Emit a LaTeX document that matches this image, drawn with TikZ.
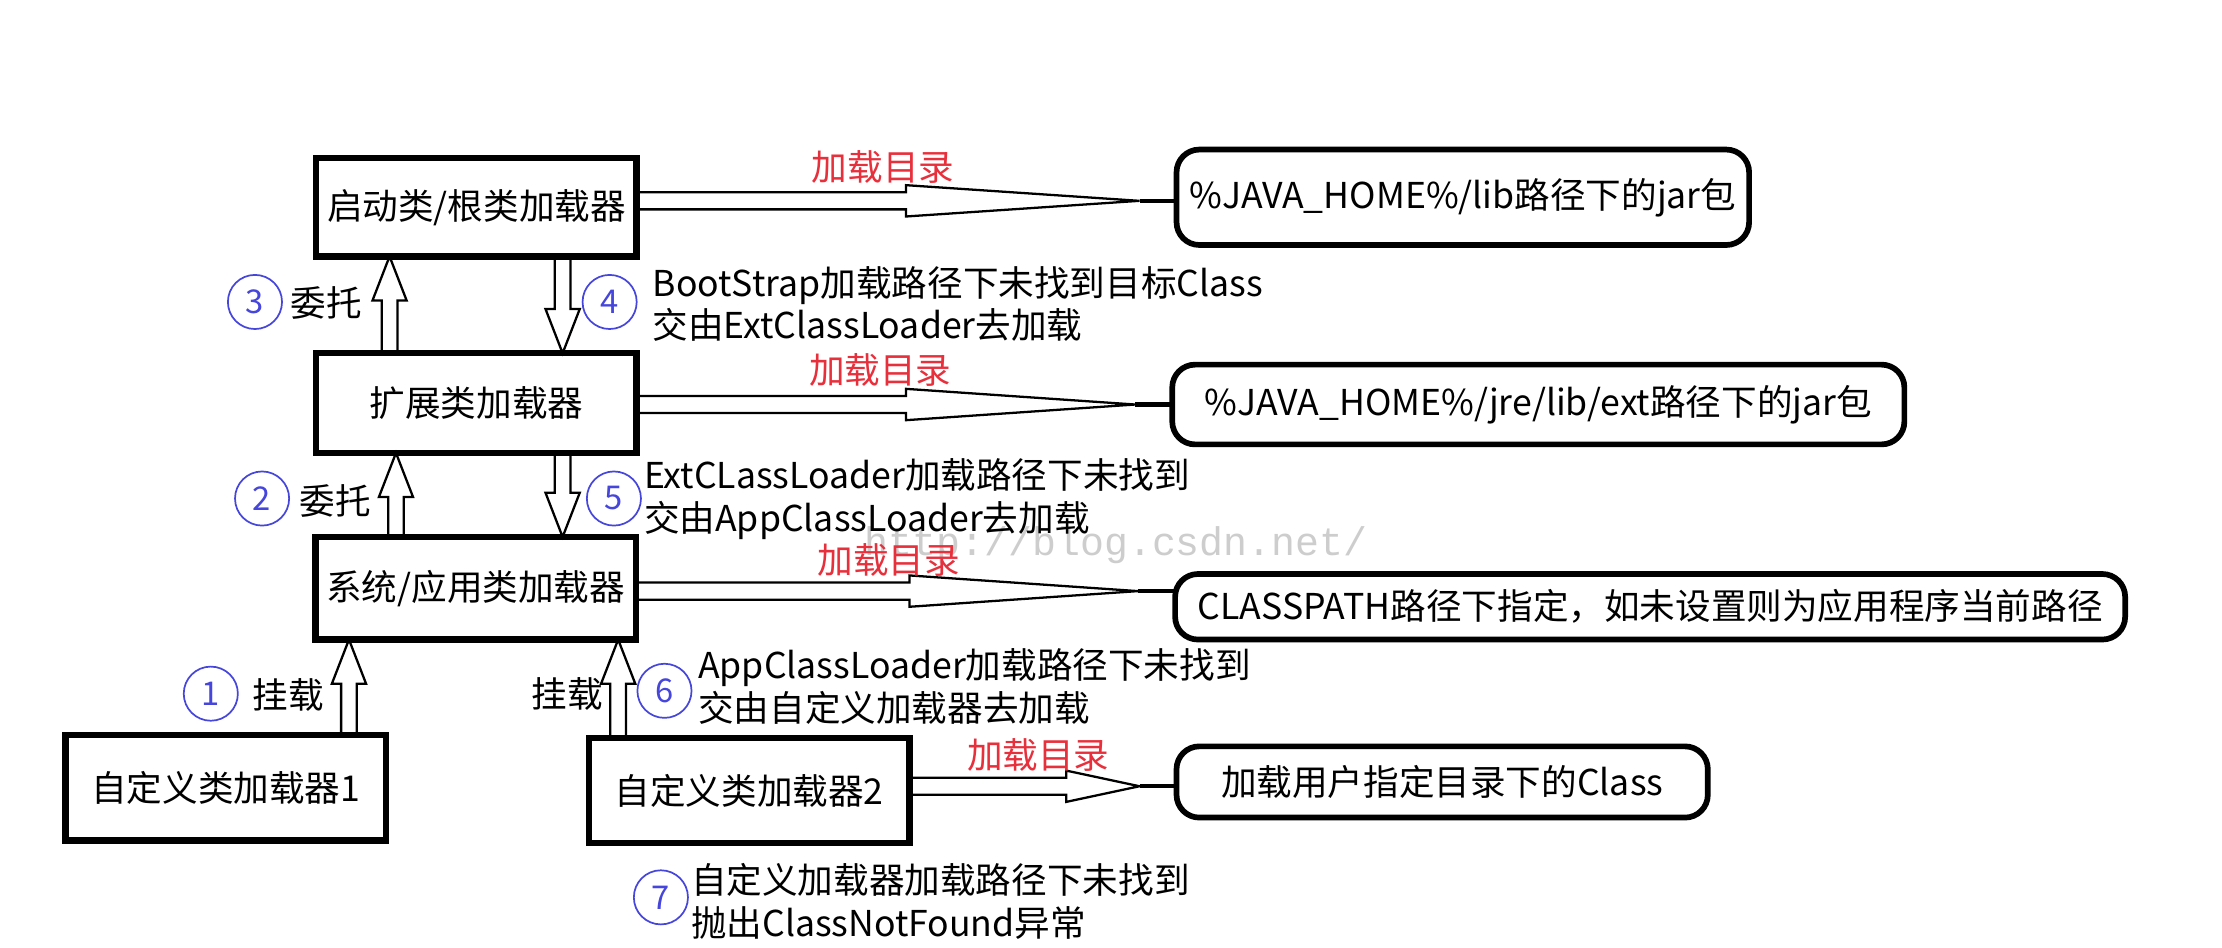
\documentclass[tikz,border=0pt]{standalone}
\usepackage{fontspec}
\setmainfont{Noto Sans CJK SC}
\newfontfamily\wmfont{Liberation Mono}
\usetikzlibrary{calc}
\definecolor{cblue}{RGB}{70,70,220}
\definecolor{cred}{RGB}{232,48,60}
\definecolor{wmgray}{RGB}{205,205,205}
\tikzset{
  box/.style={draw, line width=4.5pt, inner sep=0pt, outer sep=0pt, minimum width=225pt, font=\fontsize{25}{29}\selectfont},
  rbox/.style={draw, line width=4pt, rounded corners=16pt, inner sep=0pt, outer sep=0pt, font=\fontsize{25}{29}\selectfont},
  num/.style={circle, draw=cblue, line width=1.2pt, text=cblue, minimum size=38pt, inner sep=0pt, font=\fontsize{23}{25}\selectfont},
  lbl/.style={inner sep=0pt, font=\fontsize{25}{29}\selectfont},
  steptext/.style={inner sep=0pt, anchor=west, align=left, font=\fontsize{25}{30}\selectfont},
  redlbl/.style={inner sep=0pt, text=cred, font=\fontsize{25}{29}\selectfont},
  wm/.style={inner sep=0pt, anchor=west, text=wmgray, font=\wmfont\fontsize{28}{30}\selectfont},
  hollow/.style={draw, line width=1.6pt, line join=miter}
}
\newcommand\uparr[3]{%
  \draw[hollow] ($(#2.north -| #1)+(-5.5,0)$) -- ($(#3.south -| #1)+(-5.5,31)$) -- ($(#3.south -| #1)+(-12,31)$) -- (#3.south -| #1) -- ($(#3.south -| #1)+(12,31)$) -- ($(#3.south -| #1)+(5.5,31)$) -- ($(#2.north -| #1)+(5.5,0)$);}
\newcommand\downarr[3]{%
  \draw[hollow] ($(#2.south -| #1)+(-5.5,0)$) -- ($(#3.north -| #1)+(-5.5,-31)$) -- ($(#3.north -| #1)+(-12,-31)$) -- (#3.north -| #1) -- ($(#3.north -| #1)+(12,-31)$) -- ($(#3.north -| #1)+(5.5,-31)$) -- ($(#2.south -| #1)+(5.5,0)$);}
\newcommand\harr[4]{%
  \draw[hollow] ($(#1.east |- #3)+(0,-6)$) -- ($(#1.east |- #3)+(#4,-6)$) -- ($(#1.east |- #3)+(#4,-11)$) -- ($(#2.west |- #3)+(-26,0)$) -- ($(#1.east |- #3)+(#4,11)$) -- ($(#1.east |- #3)+(#4,6)$) -- ($(#1.east |- #3)+(0,6)$);
  \draw[line width=3pt] ($(#2.west |- #3)+(-26,0)$) -- (#2.west |- #3);}
\begin{document}
\begin{tikzpicture}[x=1pt,y=-1pt]
\useasboundingbox (0,0) rectangle (1560,665.5);
\fill[white] (0,0) rectangle (1560,665.5);

% watermark
\node[wm] (wmark) at (607,383) {http://blog.csdn.net/};

% loader boxes
\node[box, minimum height=69pt] (A) at (334.5,145.5) {启动类/根类加载器};
\node[box, minimum height=70pt] (B) at (334.5,283) {扩展类加载器};
\node[box, minimum height=72pt] (C) at (334,413) {系统/应用类加载器};
\node[box, minimum height=74pt] (D) at (158.5,553) {自定义类加载器1};
\node[box, minimum height=74pt] (E) at (526,555) {自定义类加载器2};

% directory boxes
\node[rbox, minimum width=402pt, minimum height=67pt] (R1) at (1027,138.5) {\%JAVA\_HOME\%/lib路径下的jar包};
\node[rbox, minimum width=514pt, minimum height=56pt] (R2) at (1080,284) {\%JAVA\_HOME\%/jre/lib/ext路径下的jar包};
\node[rbox, minimum width=667pt, minimum height=46pt] (R3) at (1158.5,426) {CLASSPATH路径下指定，如未设置则为应用程序当前路径};
\node[rbox, minimum width=373pt, minimum height=50pt] (R4) at (1012.5,549) {加载用户指定目录下的Class};

% helper coordinates
\coordinate (xa) at (273.5,0);
\coordinate (xb) at (395,0);
\coordinate (xc) at (278,0);
\coordinate (xe) at (245,0);
\coordinate (xf) at (434,0);
\coordinate (ya) at (0,141);
\coordinate (yb) at (0,284);
\coordinate (yc) at (0,415);
\coordinate (ye) at (0,552);

% vertical arrows
\uparr{xa}{B}{A}
\downarr{xb}{A}{B}
\uparr{xc}{C}{B}
\downarr{xb}{B}{C}
\uparr{xe}{D}{C}
\uparr{xf}{E}{C}

% horizontal arrows
\harr{A}{R1}{ya}{189}
\harr{B}{R2}{yb}{189}
\harr{C}{R3}{yc}{192}
\harr{E}{R4}{ye}{110}

% red labels
\node[redlbl] (l1) at (620,117) {加载目录};
\node[redlbl] (l2) at (618,260) {加载目录};
\node[redlbl] (l3) at (624,393) {加载目录};
\node[redlbl] (l4) at (729,530) {加载目录};

% numbered circles and labels
\node[num] (n3) at (179,212) {3};
\node[lbl, anchor=west] (t3) at (204,213) {委托};
\node[num] (n4) at (428,212) {4};
\node[steptext] (t4) at (458,213.5) {BootStrap加载路径下未找到目标Class\\交由ExtClassLoader去加载};

\node[num] (n2) at (184,350) {2};
\node[lbl, anchor=west] (t2) at (210,352) {委托};
\node[num] (n5) at (431,350) {5};
\node[steptext] (t5) at (452,350.5) {ExtCLassLoader加载路径下未找到\\交由AppClassLoader去加载};

\node[num] (n1) at (148,487) {1};
\node[lbl, anchor=west] (t1) at (177,488) {挂载};
\node[lbl, anchor=west] (t1b) at (373,487) {挂载};
\node[num] (n6) at (466.5,485) {6};
\node[steptext] (t6) at (490,482) {AppClassLoader加载路径下未找到\\交由自定义加载器去加载};

\node[num] (n7) at (464,630) {7};
\node[steptext] (t7) at (485,633) {自定义加载器加载路径下未找到\\抛出ClassNotFound异常};
\end{tikzpicture}
\end{document}
